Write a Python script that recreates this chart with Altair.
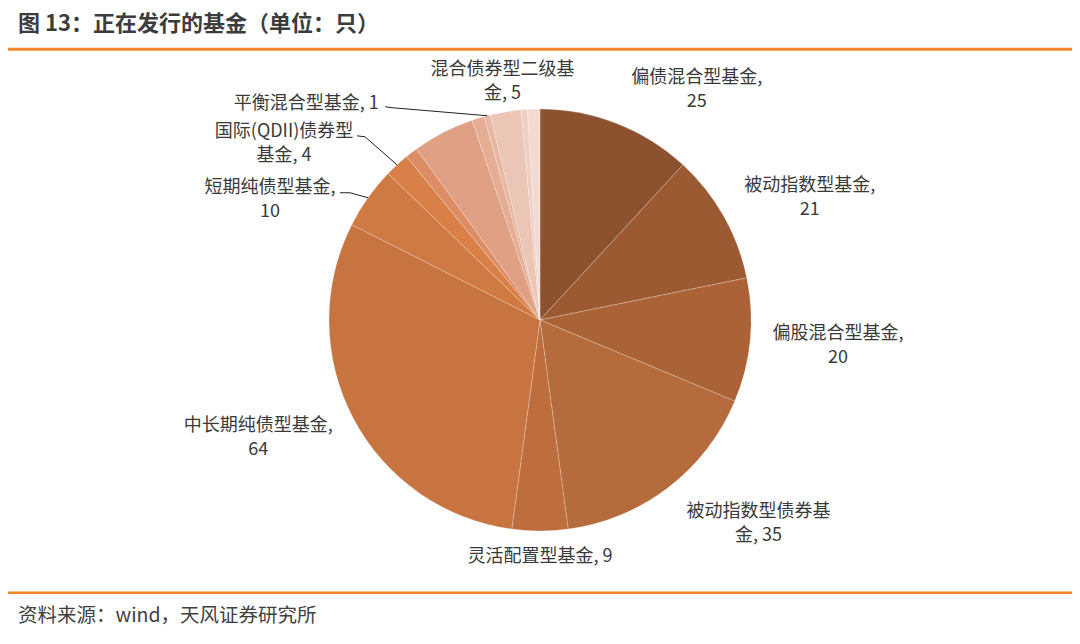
import numpy as np
import pandas as pd
import altair as alt

FONT = "Noto Sans CJK SC"
TITLE = "图 13：正在发行的基金（单位：只）"
SOURCE = "资料来源：wind，天风证券研究所"
ORANGE = "#f0872a"

# fund types in pie order (clockwise from 12 o'clock) and their counts
FUNDS = ["偏债混合型基金", "被动指数型基金", "偏股混合型基金", "被动指数型债券基金",
         "灵活配置型基金", "中长期纯债型基金", "短期纯债型基金", "国际(QDII)债券型基金",
         "国际(QDII)股票型基金", "普通股票型基金", "增强指数型基金", "平衡混合型基金",
         "混合债券型二级基金", "混合债券型一级基金", "增强指数型债券基金"]
COUNTS = [25, 21, 20, 35, 9, 64, 10, 4, 2, 10, 2, 1, 5, 1, 2]
COLORS = ["#8c512e", "#9c5a33", "#aa6236", "#b56b3b", "#be6e3d", "#c87441",
          "#d07a43", "#d88047", "#dc8d64", "#e0a083", "#e4ad94", "#e7b7a3",
          "#ebc5b6", "#efcfc4", "#f3dbd3"]

# which slices get a label, and how many characters go on the first line (0 = one line)
LABEL_WRAP = {"偏债混合型基金": 8, "被动指数型基金": 8, "偏股混合型基金": 8,
              "被动指数型债券基金": 8, "灵活配置型基金": 0, "中长期纯债型基金": 9,
              "短期纯债型基金": 8, "国际(QDII)债券型基金": 11, "平衡混合型基金": 0,
              "混合债券型二级基金": 8}

# layout: label centre offset from the slice's outer edge midpoint (px)
LABEL_OFFSET = {"偏债混合型基金": (80, -33), "被动指数型基金": (86, -18),
                "偏股混合型基金": (88, 6), "被动指数型债券基金": (90, 37),
                "灵活配置型基金": (0, 26), "中长期纯债型基金": (-95, 20),
                "短期纯债型基金": (-98, 2), "国际(QDII)债券型基金": (-113, -21),
                "平衡混合型基金": (-181, -12), "混合债券型二级基金": (-3, -30)}
# leader lines: points relative to the slice edge, ending at the edge itself
LEADERS = {"短期纯债型基金": [(-28, -5), (-18, -5)],
           "国际(QDII)债券型基金": [(-40, -29), (-32, -28)],
           "平衡混合型基金": [(-102, -9), (-95, -8)]}

W, H = 1064, 624
CX, CY, R = W / 2, H / 2, 211
LH = 24

pie_df = pd.DataFrame({"fund": FUNDS, "count": COUNTS, "idx": range(len(FUNDS))})

# slice mid angles -> outer edge points
total = sum(COUNTS)
cum = np.cumsum(COUNTS)
mid = (cum - np.array(COUNTS) / 2) / total * 2 * np.pi
edge = {f: (CX + R * np.sin(a), CY - R * np.cos(a)) for f, a in zip(FUNDS, mid)}

rows = []
for f, v in zip(FUNDS, COUNTS):
    if f not in LABEL_WRAP:
        continue
    txt = f"{f}, {v}"
    k = LABEL_WRAP[f]
    lines = [txt] if k == 0 else [txt[:k].strip(), txt[k:].strip()]
    ex, ey = edge[f]
    dx, dy = LABEL_OFFSET[f]
    n = len(lines)
    for i, ln in enumerate(lines):
        rows.append({"fund": f, "line": ln, "x": ex + dx,
                     "y": ey + dy + (i - (n - 1) / 2) * LH})
text_df = pd.DataFrame(rows)

lead_rows = []
for f, pts in LEADERS.items():
    ex, ey = edge[f]
    for k, (px, py) in enumerate(pts + [(0, 0)]):
        lead_rows.append({"fund": f, "k": k, "x": ex + px, "y": ey + py})
lead_df = pd.DataFrame(lead_rows)

pie = alt.Chart(pie_df).mark_arc(
    radius=R, stroke="#ffffff", strokeWidth=0.4, strokeOpacity=0.6
).encode(
    theta=alt.Theta("count:Q", stack=True),
    color=alt.Color("fund:N", scale=alt.Scale(domain=FUNDS, range=COLORS), legend=None),
    order=alt.Order("idx:Q"),
)

labels = alt.Chart(text_df).mark_text(
    font=FONT, fontSize=18, color="#3a3a3a", align="center", baseline="middle"
).encode(
    x=alt.X("x:Q", scale=None, axis=None),
    y=alt.Y("y:Q", scale=None, axis=None),
    text="line:N",
)

leaders = alt.Chart(lead_df).mark_line(color="#222222", strokeWidth=1).encode(
    x=alt.X("x:Q", scale=None, axis=None),
    y=alt.Y("y:Q", scale=None, axis=None),
    detail="fund:N",
    order="k:Q",
)

one = pd.DataFrame({"t": [TITLE], "s": [SOURCE]})
title = alt.Chart(one).mark_text(
    font=FONT, fontSize=22, fontWeight="bold", color="#3c3c3c", align="left", baseline="middle"
).encode(x=alt.value(10), y=alt.value(15.5), text="t:N")

source = alt.Chart(one).mark_text(
    font=FONT, fontSize=19.5, color="#404040", align="left", baseline="middle"
).encode(x=alt.value(10), y=alt.value(607.5), text="s:N")

top_line = alt.Chart(one).mark_rule(color=ORANGE, strokeWidth=3).encode(
    x=alt.value(0), x2=alt.value(W), y=alt.value(41.3))
bottom_line = alt.Chart(one).mark_rule(color=ORANGE, strokeWidth=2.5).encode(
    x=alt.value(0), x2=alt.value(W), y=alt.value(584.7))

chart = alt.layer(pie, leaders, labels, title, source, top_line, bottom_line).properties(
    width=W, height=H, padding=0, autosize=alt.AutoSizeParams(type="none"),
    background="#ffffff",
).configure_view(stroke=None)

chart.save("out.html", embed_options={"renderer": "svg", "actions": False})
